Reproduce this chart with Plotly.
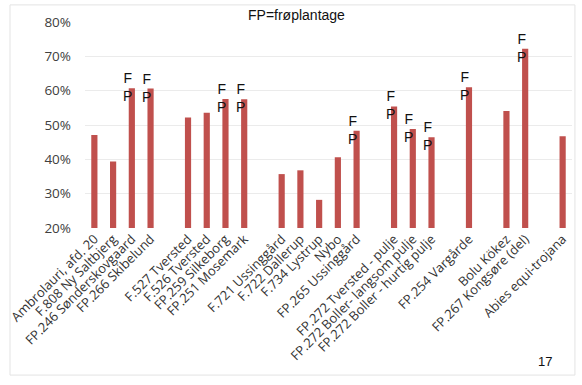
import plotly.graph_objects as go

categories = [
    "Ambrolauri, afd. 20", "F.808 Ny Saltbjerg", "FP.246 Sønderskovgaard", "FP.266 Skibelund",
    " ",
    "F.527 Tversted", "F.526 Tversted", "FP.259 Silkeborg", "FP.251 Mosemark",
    "  ",
    "F.721 Ussinggård", "F.722 Dallerup", "F.734 Lystrup", "Nybo", "FP.265 Ussinggård",
    "   ",
    "FP.272 Tversted - pulje", "FP.272 Boller- langsom pulje", "FP.272 Boller - hurtig pulje",
    "    ",
    "FP.254 Vargårde",
    "     ",
    "Bolu Kökez", "FP.267 Kongsøre (del)",
    "      ",
    "Abies equi-trojana",
]
values = [
    0.471, 0.394, 0.607, 0.606,
    None,
    0.522, 0.536, 0.576, 0.575,
    None,
    0.357, 0.368, 0.282, 0.406, 0.483,
    None,
    0.554, 0.488, 0.464,
    None,
    0.610,
    None,
    0.541, 0.722,
    None,
    0.467,
]
fp_marked = [
    "FP.246 Sønderskovgaard", "FP.266 Skibelund", "FP.259 Silkeborg", "FP.251 Mosemark",
    "FP.265 Ussinggård", "FP.272 Tversted - pulje", "FP.272 Boller- langsom pulje",
    "FP.272 Boller - hurtig pulje", "FP.254 Vargårde", "FP.267 Kongsøre (del)",
]
y_ticks = [0.2, 0.3, 0.4, 0.5, 0.6, 0.7, 0.8]

fig = go.Figure()
fig.add_trace(go.Bar(
    x=categories, y=values,
    marker=dict(color="#C0504D", line=dict(width=0)),
    width=0.33,
    hoverinfo="x+y",
))

annotations = []
for c, v in zip(categories, values):
    if c in fp_marked:
        annotations.append(dict(
            x=c, y=v, xref="x", yref="y", text="F<br>P", showarrow=False,
            xanchor="center", yanchor="middle", xshift=-4, yshift=1,
            font=dict(family="Liberation Sans, Arial", size=14, color="#111111"),
        ))
annotations.append(dict(
    x=0.435, y=1.034, xref="paper", yref="paper", text="FP=frøplantage",
    showarrow=False, xanchor="center", yanchor="middle",
    font=dict(family="Liberation Sans, Arial", size=14, color="#111111"),
))
annotations.append(dict(
    x=0.945, y=-0.650, xref="paper", yref="paper", text="17",
    showarrow=False, xanchor="center", yanchor="middle",
    font=dict(family="Liberation Sans, Arial", size=13, color="#111111"),
))

fig.update_layout(
    width=582, height=385,
    margin=dict(l=85, r=10, t=22, b=157, autoexpand=False),
    paper_bgcolor="white", plot_bgcolor="white",
    showlegend=False,
    bargap=0.67,
    annotations=annotations,
    shapes=[dict(
        type="rect", xref="paper", yref="paper",
        x0=-0.154, x1=1.006, y0=-0.714, y1=1.083,
        line=dict(color="#E3E3E3", width=1), fillcolor="rgba(0,0,0,0)", layer="below",
    )],
    font=dict(family="Liberation Sans, Arial", color="#404040"),
)
fig.update_xaxes(
    type="category", tickangle=-45, showgrid=False, showline=False, ticks="",
    automargin=False,
    tickfont=dict(family="Open Sans", size=13, color="#333333"),
)
fig.update_yaxes(
    range=[0.2, 0.8], tickvals=y_ticks, tickformat=".0%",
    showgrid=True, gridcolor="#EBEBEB", gridwidth=1, zeroline=False, showline=False,
    automargin=False, ticklabelstandoff=13,
    ticks="", ticklen=0, tickfont=dict(family="Open Sans", size=13.5, color="#404040"),
)

fig.write_html(
    "out.html",
    config={"displayModeBar": False},
    post_script="document.body.style.margin='0';document.body.style.overflow='hidden';",
)
